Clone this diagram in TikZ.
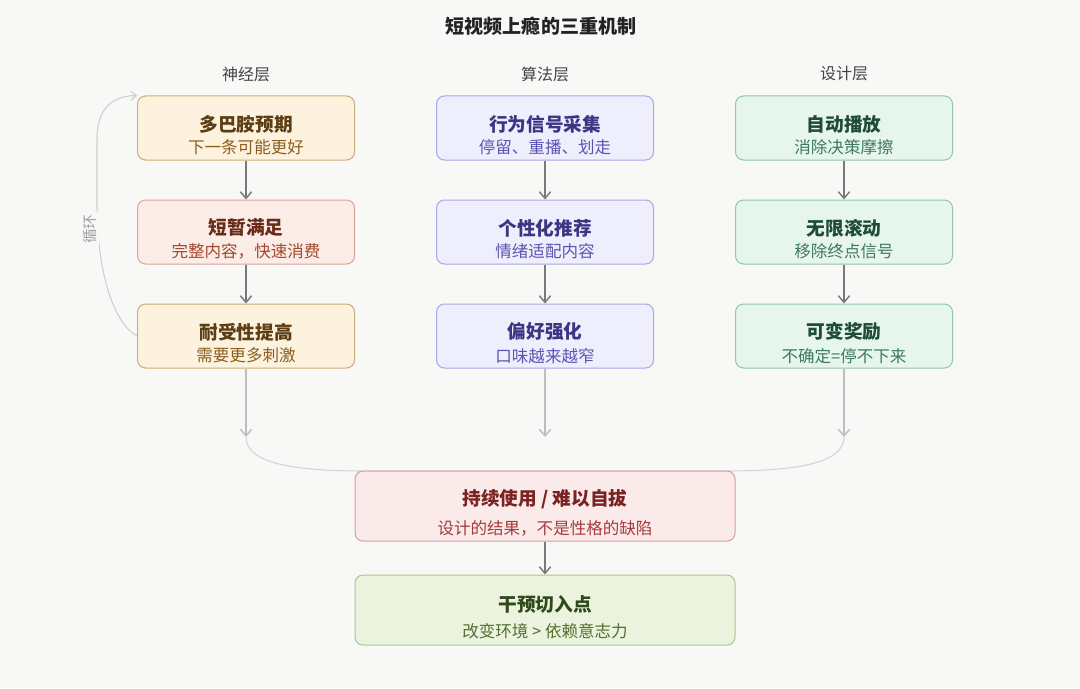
\documentclass[tikz,border=0pt]{standalone}
\usepackage{fontspec}
\setmainfont{Noto Sans CJK SC}
\usepackage{xcolor}
\usepackage{tikz}
\usetikzlibrary{arrows.meta, positioning}
\definecolor{PageBg}{RGB}{248, 248, 246}
\definecolor{TitleInk}{RGB}{34, 34, 34}
\definecolor{HeadInk}{RGB}{68, 68, 68}
\definecolor{ArrowDark}{RGB}{122, 122, 122}
\definecolor{ArrowLight}{RGB}{190, 190, 190}
\definecolor{MergeGray}{RGB}{212, 212, 212}
\definecolor{CycleGray}{RGB}{206, 206, 206}
\definecolor{CycleInk}{RGB}{160, 160, 160}
% neuro layer
\definecolor{NeuroFill}{RGB}{252, 242, 222}
\definecolor{NeuroBorder}{RGB}{204, 174, 122}
\definecolor{NeuroTitle}{RGB}{92, 61, 20}
\definecolor{NeuroSub}{RGB}{139, 94, 30}
\definecolor{HotFill}{RGB}{251, 236, 232}
\definecolor{HotBorder}{RGB}{216, 164, 150}
\definecolor{HotTitle}{RGB}{106, 42, 24}
\definecolor{HotSub}{RGB}{164, 71, 44}
% algorithm layer
\definecolor{AlgoFill}{RGB}{238, 238, 252}
\definecolor{AlgoBorder}{RGB}{168, 166, 230}
\definecolor{AlgoTitle}{RGB}{59, 54, 132}
\definecolor{AlgoSub}{RGB}{90, 85, 181}
% design layer
\definecolor{DesignFill}{RGB}{230, 245, 238}
\definecolor{DesignBorder}{RGB}{144, 199, 174}
\definecolor{DesignTitle}{RGB}{31, 75, 57}
\definecolor{DesignSub}{RGB}{62, 122, 94}
% outcome
\definecolor{OutFill}{RGB}{251, 234, 234}
\definecolor{OutBorder}{RGB}{215, 156, 156}
\definecolor{OutTitle}{RGB}{123, 34, 34}
\definecolor{OutSub}{RGB}{165, 59, 59}
\definecolor{FixFill}{RGB}{235, 243, 223}
\definecolor{FixBorder}{RGB}{169, 201, 140}
\definecolor{FixTitle}{RGB}{48, 73, 26}
\definecolor{FixSub}{RGB}{82, 112, 47}

\newcommand{\boxlabel}[5][4.8pt]{%
  {\fontsize{14}{16}\selectfont\bfseries\color{#2}\rule{0pt}{22.5pt}#4}\\[#1]%
  {\fontsize{12.4}{14}\selectfont\color{#3}#5}}

\tikzset{
  stagebox/.style={
    rounded corners=6pt, line width=0.75pt, align=center,
    minimum width=162.75pt, minimum height=48pt, inner sep=1pt
  },
  neuro/.style={stagebox, fill=NeuroFill, draw=NeuroBorder},
  neurohot/.style={stagebox, fill=HotFill, draw=HotBorder},
  algo/.style={stagebox, fill=AlgoFill, draw=AlgoBorder},
  design/.style={stagebox, fill=DesignFill, draw=DesignBorder},
  widebox/.style={stagebox, minimum width=285pt, minimum height=52.5pt},
  layerhead/.style={font=\fontsize{12}{14}\selectfont, text=HeadInk},
  flow/.style={draw=ArrowDark, line width=1.1pt,
    -{Straight Barb[length=5pt,width=8.5pt]}},
  feed/.style={draw=ArrowLight, line width=1.1pt,
    -{Straight Barb[length=5pt,width=8.5pt]}},
  merge/.style={draw=MergeGray, line width=0.8pt},
  cycleline/.style={draw=CycleGray, line width=0.8pt,
    -{Straight Barb[length=4pt,width=7pt]}},
  cyclelabel/.style={font=\fontsize{11}{12}\selectfont, text=CycleInk,
    fill=PageBg, rotate=90, inner sep=2pt}
}

\begin{document}
\begin{tikzpicture}[x=0.75pt, y=-0.75pt, node distance=29.25pt]
    \fill[PageBg] (0,0) rectangle (1080,688);
    \useasboundingbox (0,0) rectangle (1080,688);

    \node[font=\fontsize{14.3}{16}\selectfont\bfseries, text=TitleInk] (title) at (541,26) {短视频上瘾的三重机制};

    % layer headers
    \node[layerhead] (hneuro) at (246,74) {神经层};
    \node[layerhead] (halgo) at (545,74) {算法层};
    \node[layerhead] (hdesign) at (844,74) {设计层};

    % neuro column
    \node[neuro] (dopa) at (246,128) {\boxlabel{NeuroTitle}{NeuroSub}{多巴胺预期}{下一条可能更好}};
    \node[neurohot, below=of dopa] (brief) {\boxlabel{HotTitle}{HotSub}{短暂满足}{完整内容，快速消费}};
    \node[neuro, below=of brief] (toler) {\boxlabel{NeuroTitle}{NeuroSub}{耐受性提高}{需要更多刺激}};

    % algorithm column
    \node[algo] (signal) at (545,128) {\boxlabel{AlgoTitle}{AlgoSub}{行为信号采集}{停留、重播、划走}};
    \node[algo, below=of signal] (recom) {\boxlabel{AlgoTitle}{AlgoSub}{个性化推荐}{情绪适配内容}};
    \node[algo, below=of recom] (prefer) {\boxlabel{AlgoTitle}{AlgoSub}{偏好强化}{口味越来越窄}};

    % design column
    \node[design] (autoplay) at (844,128) {\boxlabel{DesignTitle}{DesignSub}{自动播放}{消除决策摩擦}};
    \node[design, below=of autoplay] (scroll) {\boxlabel{DesignTitle}{DesignSub}{无限滚动}{移除终点信号}};
    \node[design, below=of scroll] (reward) {\boxlabel{DesignTitle}{DesignSub}{可变奖励}{不确定=停不下来}};

    \draw[flow] (dopa) -- (brief);
    \draw[flow] (brief) -- (toler);
    \draw[flow] (signal) -- (recom);
    \draw[flow] (recom) -- (prefer);
    \draw[flow] (autoplay) -- (scroll);
    \draw[flow] (scroll) -- (reward);

    % cycle back to the top
    \draw[cycleline] (toler.west) .. controls (112,322) and (97,268) .. (97,205)
      -- (97,140) .. controls (97,108) and (112,96) .. (dopa.north west);
    \node[cyclelabel] (cycle) at (90,229) {循环};

    % into the outcome
    \coordinate (jneuro) at (246,437);
    \coordinate (jalgo) at (545,437);
    \coordinate (jdesign) at (844,437);
    \draw[feed] (toler) -- (jneuro);
    \draw[feed] (prefer) -- (jalgo);
    \draw[feed] (reward) -- (jdesign);
    \draw[merge] (jneuro) .. controls (246,463) and (292,471) .. (365,471)
      -- (725,471) .. controls (798,471) and (844,463) .. (jdesign);

    \node[widebox, fill=OutFill, draw=OutBorder] (outcome) at (545,506)
      {\boxlabel[7.8pt]{OutTitle}{OutSub}{持续使用 / 难以自拔}{设计的结果，不是性格的缺陷}};
    \node[widebox, fill=FixFill, draw=FixBorder, below=24.75pt of outcome] (fix)
      {\boxlabel[7.8pt]{FixTitle}{FixSub}{干预切入点}{改变环境 > 依赖意志力}};
    \draw[flow] (outcome) -- (fix);
  \end{tikzpicture}
\end{document}
